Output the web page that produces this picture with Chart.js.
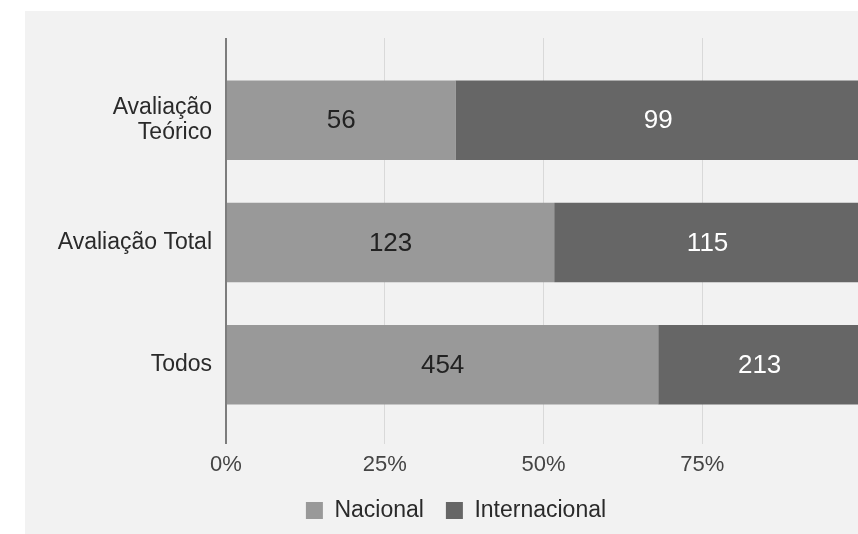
<!DOCTYPE html>
<html>
<head>
<meta charset="utf-8">
<script src="https://cdn.jsdelivr.net/npm/chart.js@4/dist/chart.umd.min.js"></script>
<style>
  html, body { margin: 0; padding: 0; background: #fff; overflow: hidden; width: 858px; height: 534px; }
  #painel { position: absolute; left: 25px; top: 11px; width: 860px; height: 523px; background: #f2f2f2; }
</style>
</head>
<body>
<div id="painel"><canvas id="grafico"></canvas></div>
<script>
const categorias = [['Avaliação', 'Teórico'], 'Avaliação Total', 'Todos'];
const nacional = [56, 123, 454];
const internacional = [99, 115, 213];
const xTicks = [0, 25, 50, 75, 100];

const fonte = "'Liberation Sans', Arial, sans-serif";

// percentagem de cada serie dentro da categoria
function percent(arr, outro) {
    return arr.map((v, i) => v / (v + outro[i]) * 100);
}

const corGrade = ctx => ctx.tick && ctx.tick.value === 0 ? '#7d7d7d' : '#d9d9d9';
const larguraGrade = ctx => ctx.tick && ctx.tick.value === 0 ? 2 : 1;

// escreve o valor bruto no meio de cada barra
const rotulos = {
    id: 'rotulos',
    afterDatasetsDraw(chart) {
        const c = chart.ctx;
        c.save();
        c.font = '26px ' + fonte;
        c.textAlign = 'center';
        c.textBaseline = 'middle';
        chart.data.datasets.forEach((ds, i) => {
            const meta = chart.getDatasetMeta(i);
            c.fillStyle = ds.corTexto;
            meta.data.forEach((bar, j) => {
                c.fillText(ds.brutos[j], (bar.x + bar.base) / 2, bar.y + 1);
            });
        });
        c.restore();
    }
};

new Chart(document.getElementById('grafico'), {
    type: 'bar',
    data: {
        labels: categorias,
        datasets: [{
            label: 'Nacional',
            data: percent(nacional, internacional),
            brutos: nacional,
            corTexto: '#222',
            backgroundColor: '#999999',
            borderWidth: 0
        }, {
            label: 'Internacional',
            data: percent(internacional, nacional),
            brutos: internacional,
            corTexto: '#ffffff',
            backgroundColor: '#666666',
            borderWidth: 0
        }]
    },
    options: {
        indexAxis: 'y',
        responsive: true,
        maintainAspectRatio: false,
        animation: false,
        events: [],
        datasets: { bar: { categoryPercentage: 1, barPercentage: 0.65 } },
        layout: { padding: { top: 27, right: 24, left: 26, bottom: 2 } },
        scales: {
            x: {
                stacked: true,
                min: 0,
                max: 100,
                afterBuildTicks: s => { s.ticks = xTicks.map(v => ({ value: v })); },
                ticks: {
                    callback: v => v === 100 ? '' : v + '%',
                    font: { family: fonte, size: 22 },
                    color: '#444',
                    padding: 8,
                    maxRotation: 0
                },
                grid: { color: corGrade, lineWidth: larguraGrade, tickLength: 18 },
                border: { display: false },
                afterFit: s => { s.height = 51; }
            },
            x2: {
                position: 'top',
                min: 0,
                max: 100,
                afterBuildTicks: s => { s.ticks = xTicks.map(v => ({ value: v })); },
                ticks: { display: false },
                grid: { color: corGrade, lineWidth: larguraGrade, tickLength: 21, drawOnChartArea: false },
                border: { display: false },
                afterFit: s => { s.height = 21; }
            },
            y: {
                stacked: true,
                ticks: {
                    font: { family: fonte, size: 23, lineHeight: 1.05 },
                    color: '#2a2a2a',
                    padding: 14
                },
                grid: { display: false, drawTicks: false },
                border: { display: false },
                afterFit: s => { s.width = 175; }
            }
        },
        plugins: {
            tooltip: { enabled: false },
            legend: {
                position: 'bottom',
                labels: {
                    boxWidth: 17,
                    boxHeight: 17,
                    padding: 22,
                    color: '#2a2a2a',
                    font: { family: fonte, size: 23 }
                }
            }
        }
    },
    plugins: [rotulos]
});
</script>
</body>
</html>
